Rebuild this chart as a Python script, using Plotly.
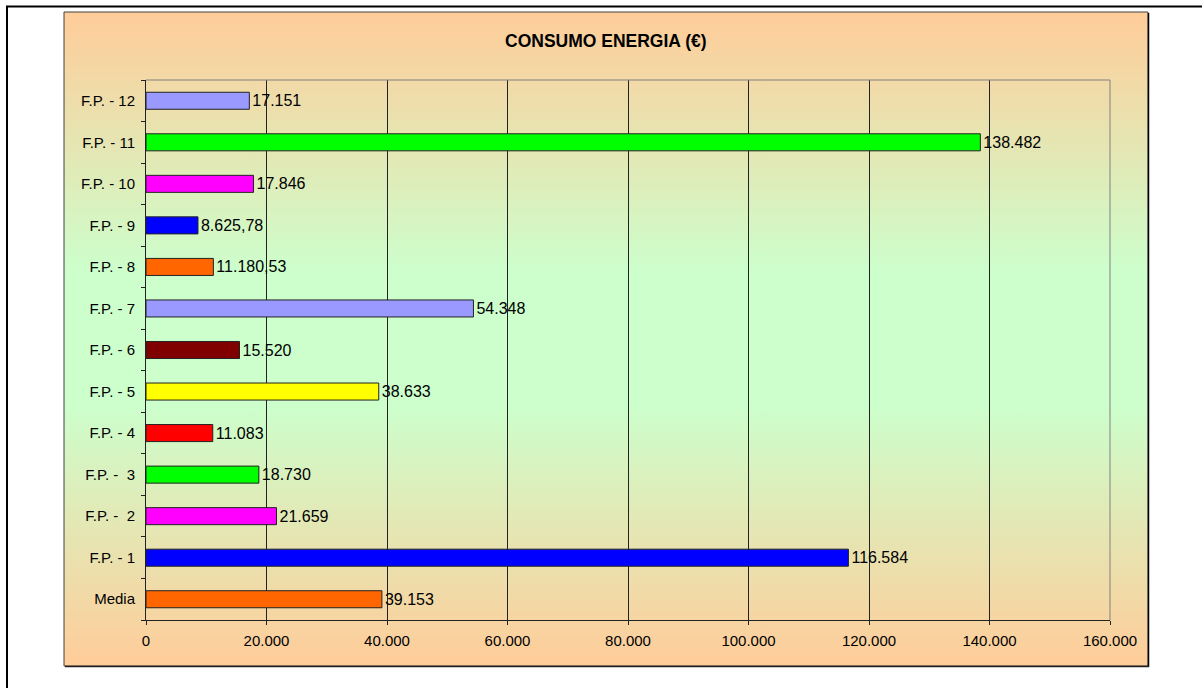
import plotly.graph_objects as go

# Energy consumption (EUR) per site, bottom-to-top order on the chart
categories = ["Media", "F.P. - 1", "F.P. -  2", "F.P. -  3", "F.P. - 4", "F.P. - 5",
              "F.P. - 6", "F.P. - 7", "F.P. - 8", "F.P. - 9", "F.P. - 10",
              "F.P. - 11", "F.P. - 12"]
consumo = [39153, 116584, 21659, 18730, 11083, 38633, 15520, 54348,
           11180.53, 8625.78, 17846, 138482, 17151]
bar_colors = ["#FF6600", "#0000FF", "#FF00FF", "#00FF00", "#FF0000", "#FFFF00",
              "#800000", "#9999FF", "#FF6600", "#0000FF", "#FF00FF",
              "#00FF00", "#9999FF"]
x_ticks = [0, 20000, 40000, 60000, 80000, 100000, 120000, 140000, 160000]
x_tick_labels = ["0", "20.000", "40.000", "60.000", "80.000", "100.000",
                 "120.000", "140.000", "160.000"]
title_text = "CONSUMO ENERGIA (€)"

W, H = 1202, 688


def px(x):
    return x / W


def py(y):
    return 1 - y / H


def it_number(v):
    """Italian number style: '.' for thousands, ',' for decimals."""
    if float(v).is_integer():
        s = f"{int(v):,}"
    else:
        s = f"{v:,.2f}"
    return s.replace(",", "#").replace(".", ",").replace("#", ".")


labels = [it_number(v) for v in consumo]
tick_text = [c.replace("  ", " \u00a0") for c in categories]

FONT = "Liberation Sans, Arial, sans-serif"
ORANGE = "#FFCC99"
GREEN = "#CCFFCC"

fig = go.Figure()

# Chart-area background: orange at top/bottom fading to green in the middle
fig.add_trace(go.Scatter(
    x=[0, 1, 1, 0, 0], y=[0, 0, 1, 1, 0],
    xaxis="x", yaxis="y",
    mode="lines", fill="toself",
    line=dict(width=0),
    fillgradient=dict(type="vertical",
                      colorscale=[[0, ORANGE], [0.4, GREEN], [0.6, GREEN], [1, ORANGE]]),
    hoverinfo="skip", showlegend=False,
))

fig.add_trace(go.Bar(
    y=categories, x=consumo, orientation="h",
    xaxis="x2", yaxis="y2",
    marker=dict(color=bar_colors, line=dict(color="#222222", width=1)),
    text=labels, textposition="outside", constraintext="none",
    textfont=dict(family=FONT, size=16, color="#000000"),
    cliponaxis=False, hoverinfo="skip", showlegend=False,
))

box_l, box_t, box_r, box_b = 64, 12, 1148, 666
plot_l, plot_t, plot_r, plot_b = 146, 80, 1110, 620

fig.update_layout(
    template="none",
    width=W, height=H,
    margin=dict(l=0, r=0, t=0, b=0, pad=0, autoexpand=False),
    paper_bgcolor="white", plot_bgcolor="rgba(0,0,0,0)",
    separators=",.",
    bargap=0.59,
    font=dict(family=FONT, color="#000000"),
    xaxis=dict(domain=[px(box_l), px(box_r)], range=[0, 1], visible=False,
               fixedrange=True, automargin=False),
    yaxis=dict(domain=[py(box_b), py(box_t)], range=[0, 1], visible=False,
               fixedrange=True, automargin=False),
    xaxis2=dict(
        domain=[px(plot_l), px(plot_r)], anchor="y2", automargin=False,
        range=[0, 160000], tickvals=x_ticks, ticktext=x_tick_labels,
        showgrid=True, gridcolor="#222222", gridwidth=1,
        showline=True, linecolor="#222222", linewidth=1,
        ticks="outside", ticklen=4, tickcolor="#222222", ticklabelstandoff=3,
        tickfont=dict(family=FONT, size=15, color="#000000"),
        zeroline=False, fixedrange=True,
    ),
    yaxis2=dict(
        domain=[py(plot_b), py(plot_t)], anchor="x2", automargin=False,
        type="category", categoryorder="array", categoryarray=categories,
        tickvals=categories, ticktext=tick_text,
        showgrid=False, showline=True, linecolor="#222222", linewidth=1,
        ticks="outside", ticklen=4, tickcolor="#222222", tickson="boundaries",
        ticklabelstandoff=7,
        tickfont=dict(family=FONT, size=15, color="#000000"),
        zeroline=False, fixedrange=True,
    ),
    annotations=[dict(
        text=f"<b>{title_text}</b>", x=px((box_l + box_r) / 2), y=py(41),
        xref="paper", yref="paper", xanchor="center", yanchor="middle",
        showarrow=False, font=dict(family=FONT, size=17.5, color="#000000"),
    )],
    shapes=[
        # outer page frame
        dict(type="rect", xref="paper", yref="paper",
             x0=px(7), x1=px(1230), y0=py(6.5), y1=py(720),
             line=dict(color="#000000", width=2)),
        # chart-area frame with a slight shadow on right/bottom
        dict(type="rect", xref="paper", yref="paper",
             x0=px(box_l), x1=px(box_r), y0=py(box_b), y1=py(box_t),
             line=dict(color="#404040", width=1)),
        dict(type="line", xref="paper", yref="paper",
             x0=px(box_r + 0.5), x1=px(box_r + 0.5), y0=py(box_t + 1), y1=py(box_b + 1),
             line=dict(color="#000000", width=1.5)),
        dict(type="line", xref="paper", yref="paper",
             x0=px(box_l + 1), x1=px(box_r + 1), y0=py(box_b + 0.5), y1=py(box_b + 0.5),
             line=dict(color="#202020", width=1.5)),
        # plot-area top and right border in grey
        dict(type="line", xref="x2 domain", yref="y2 domain", layer="above",
             x0=0, x1=1, y0=1, y1=1, line=dict(color="#808080", width=1)),
        dict(type="line", xref="x2 domain", yref="y2 domain", layer="above",
             x0=1, x1=1, y0=0, y1=1, line=dict(color="#808080", width=1)),
    ],
)

fig.write_html("out.html")
